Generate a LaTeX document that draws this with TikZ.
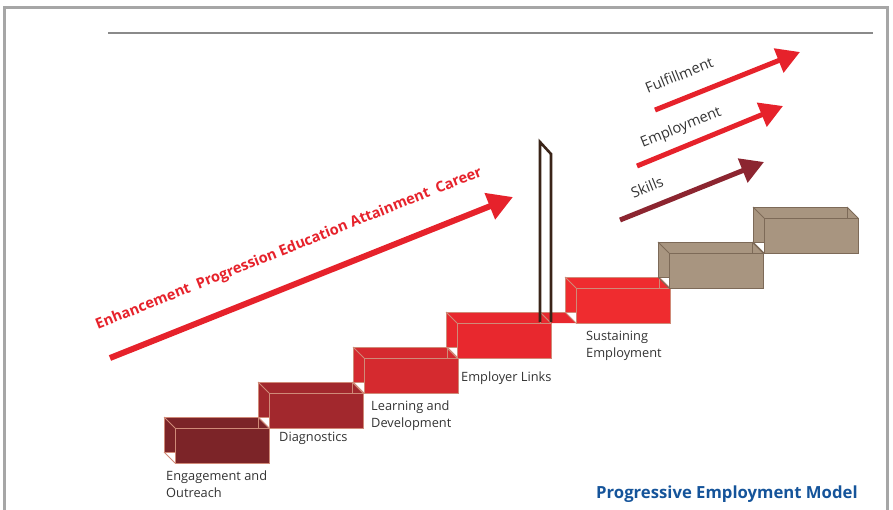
\documentclass[tikz,border=0pt]{standalone}
\usepackage{fontspec}
\setmainfont{Open Sans}
\usetikzlibrary{arrows.meta}
\definecolor{frameg}{HTML}{A6A6A6}
\definecolor{ruleg}{HTML}{8A8A8A}
\definecolor{arrred}{HTML}{E6222B}
\definecolor{arrdark}{HTML}{8C2530}
\definecolor{sA}{HTML}{7C2428}
\definecolor{sB}{HTML}{A2282D}
\definecolor{sC}{HTML}{D52A2F}
\definecolor{sD}{HTML}{E8282E}
\definecolor{sE}{HTML}{EF2C2F}
\definecolor{tanf}{HTML}{A89580}
\definecolor{edgered}{HTML}{D08A78}
\definecolor{edgetan}{HTML}{7D6A58}
\definecolor{postc}{HTML}{3A2418}
\definecolor{txtg}{HTML}{333333}
\definecolor{titleblue}{HTML}{15549A}
\newcommand\stairbox[4]{%
  \fill[#3] (#1,#2) -- ++(94,0) -- ++(11,11) -- ++(0,35) -- ++(-94,0) -- ++(0,-11) -- ++(-11,0) -- cycle;
  \draw[#4, edgeline] (#1+11,#2+35) -- (#1,#2+35) -- (#1,#2) -- (#1+94,#2) -- (#1+94,#2+11);
  \draw[#4, edgeline] (#1+11,#2+11) rectangle (#1+105,#2+46);
  \draw[#4, edgeline] (#1,#2) -- (#1+11,#2+11);
  \draw[#4, edgeline] (#1+94,#2) -- (#1+105,#2+11);
  \draw[#4, edgeline] (#1,#2+35) -- (#1+11,#2+46);
}
\begin{document}
\begin{tikzpicture}[x=1pt,y=-1pt,
  edgeline/.style={line width=0.85pt},
  steplabel/.style={anchor=north west, inner sep=0pt, align=left, text=txtg,
    font=\fontsize{12.8}{16.5}\selectfont},
  bigarrow/.style={line width=6pt, arrred, -{Triangle[length=25pt,width=27pt]}},
  smallarrow/.style={line width=5pt, -{Triangle[length=23pt,width=25pt]}},
  arrlabel/.style={inner sep=0pt, text=txtg, rotate=22, font=\fontsize{14.5}{17}\selectfont}]
\useasboundingbox (0,0) rectangle (893,509);
% frame
\draw[frameg, line width=3pt] (4,530) -- (4,7) -- (887,7) -- (887,530);
\draw[ruleg, line width=1.4pt] (108,33) -- (873,33);
% steps
\stairbox{164}{417}{sA}{edgered}
\stairbox{258}{382}{sB}{edgered}
\stairbox{353}{347}{sC}{edgered}
\stairbox{446}{312}{sD}{edgered}
% connecting slab
\fill[sD] (540,312) -- (565,312) -- (576,323) -- (551,323) -- cycle;
\draw[edgered, edgeline] (540,312) -- (565,312);
\draw[edgered, edgeline] (540,312) -- (551,323);
\stairbox{565}{277}{sE}{edgered}
\stairbox{658}{242}{tanf}{edgetan}
\stairbox{753}{207}{tanf}{edgetan}
% post
\draw[postc, line width=2.6pt, line join=miter] (540,322) -- (540,142) -- (551,154) -- (551,322);
% labels
\node[steplabel] (l1) at (166,471) {Engagement and\\Outreach};
\node[steplabel] (l2) at (279,432) {Diagnostics};
\node[steplabel] (l3) at (371,401) {Learning and\\Development};
\node[steplabel] (l4) at (461,372) {Employer Links};
\node[steplabel] (l5) at (586,331) {Sustaining\\Employment};
\node[anchor=base west, inner sep=0pt, text=titleblue, font=\fontsize{16.7}{19}\bfseries] (title) at (596,498) {Progressive Employment Model};
% big arrow
\coordinate (bs) at (110,358);
\coordinate (be) at (513,197);
\draw[bigarrow] (bs) -- (be);
\node[inner sep=0pt, text=arrred, rotate=21.8, font=\fontsize{14.6}{17}\bfseries] (bigtxt) at (289,249) {Enhancement\ \ Progression Education Attainment\ \ Career};
% small arrows
\coordinate (fs) at (655,110);
\coordinate (fe) at (800,52);
\coordinate (es) at (637,166);
\coordinate (ee) at (783,106);
\coordinate (ss) at (620,220);
\coordinate (se) at (764,162);
\draw[smallarrow, arrred] (fs) -- (fe);
\draw[smallarrow, arrred] (es) -- (ee);
\draw[smallarrow, arrdark] (ss) -- (se);
\node[arrlabel] (ft) at (679,75) {Fulfillment};
\node[arrlabel] (et) at (681,128) {Employment};
\node[arrlabel] (st) at (647,187) {Skills};
\end{tikzpicture}
\end{document}
